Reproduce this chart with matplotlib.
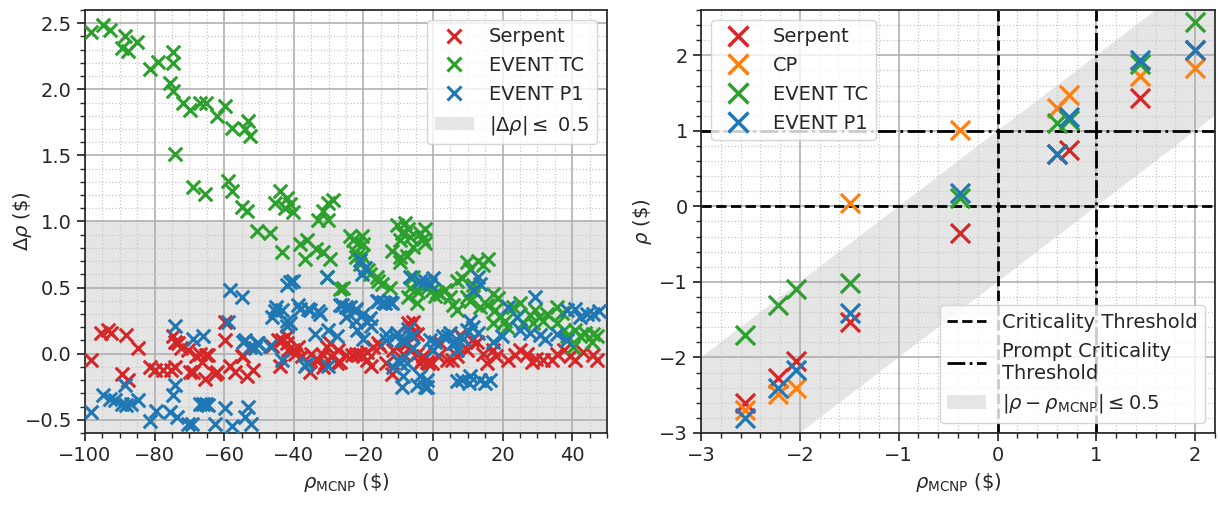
import numpy as np
import matplotlib
matplotlib.use("Agg")
import matplotlib.pyplot as plt
from matplotlib.patches import Patch
from matplotlib.lines import Line2D
from matplotlib.ticker import MultipleLocator

# ---------------- Left panel data (Delta rho vs rho_MCNP) ----------------
serpent_left_x = [-98.2, -95.3, -93.4, -92.4, -88.1, -84.8, -89.5, -87.6, -81.4, -80.0, -77.6, -75.2,
                  -74.2, -74.7, -74.2, -73.3, -72.3, -70.4, -69.9, -68.0, -66.5, -65.1, -65.6, -62.7,
                  -59.8, -59.8, -58.4, -67.0, -64.6, -69.0, -62.2, -57.0, -55.0, -53.6, -51.7, -46.4,
                  -44.5, -42.1, -41.6, -39.8, -44.0, -35.0, -33.0, -31.5, -54.6, -43.5, -42.1, -40.2,
                  -38.8, -37.8, -35.4, -33.5, -31.6, -29.6, -27.2, -26.8, -24.9, -22.0, -20.1, -19.1,
                  -17.2, -15.3, -13.4, -11.4, -8.6, -6.6, -4.7, -3.8, -1.8, -30.6, -29.2, -27.7,
                  -31.1, -23.4, -21.0, -19.1, -17.7, -15.7, -11.9, -7.1, -5.7, -6.1, -7.6, -6.6,
                  -4.7, -3.3, -0.4, 1.5, 3.9, 6.8, -8.6, -2.8, -1.4, 2.0, 5.3, 7.7,
                  9.7, 11.1, 12.5, 14.4, 15.4, 17.3, 18.2, 21.6, 23.5, 25.0, 26.9, 28.3,
                  29.7, 31.7, 34.1, 35.6, 37.5, 39.4, 40.8, 43.2, 46.1, 47.1]
serpent_left_y = [-0.05, 0.16, 0.18, 0.16, 0.14, 0.04, -0.15, -0.20, -0.10, -0.12, -0.12, -0.12,
                  -0.10, 0.13, 0.09, 0.08, 0.04, 0.03, -0.14, -0.02, -0.06, -0.01, -0.19, -0.15,
                  0.24, 0.10, -0.09, 0.00, -0.01, -0.14, -0.14, -0.14, -0.02, -0.17, -0.12, 0.06,
                  0.10, 0.13, 0.03, 0.00, -0.09, 0.00, -0.05, -0.10, -0.02, 0.10, 0.08, 0.03,
                  0.05, -0.02, -0.14, -0.04, -0.01, 0.08, 0.03, -0.06, -0.01, 0.00, -0.02, 0.01,
                  0.05, 0.06, -0.07, 0.03, 0.08, 0.21, 0.15, -0.07, -0.06, 0.05, -0.02, -0.07,
                  -0.07, -0.01, 0.00, -0.05, -0.09, 0.08, -0.15, 0.23, 0.24, 0.15, 0.08, 0.03,
                  0.00, -0.05, -0.07, -0.02, -0.05, -0.02, 0.00, -0.02, -0.07, 0.08, -0.05, 0.14,
                  0.03, 0.10, 0.09, 0.00, -0.07, 0.03, -0.02, -0.05, -0.01, 0.03, 0.00, -0.06,
                  -0.04, -0.05, -0.05, 0.00, 0.03, -0.02, -0.05, 0.01, -0.01, -0.05]

tc_left_x = [-98.2, -94.8, -92.9, -88.6, -89.5, -87.6, -85.2, -81.4, -79.0, -74.7, -74.7, -75.6,
             -74.7, -71.8, -69.9, -67.0, -65.1, -62.2, -59.8, -57.9, -53.1, -54.1, -52.6, -74.2,
             -69.0, -65.6, -58.9, -57.9, -55.0, -53.6, -50.7, -46.9, -44.0, -45.5, -42.1, -41.1,
             -40.2, -42.6, -43.5, -30.1, -28.7, -31.6, -33.0, -30.1, -38.3, -36.3, -36.8, -33.5,
             -31.6, -29.6, -30.6, -25.8, -26.8, -23.9, -20.5, -21.5, -22.5, -20.5, -23.0, -20.1,
             -22.0, -21.0, -18.6, -18.1, -16.2, -15.7, -14.8, -12.4, -10.5, -8.1, -7.1, -9.0,
             -9.5, -6.6, -3.8, -2.3, -2.8, -5.7, -11.9, -9.5, -7.6, -9.5, -2.3, -5.7,
             -6.6, -4.2, -3.3, -1.8, -0.4, -7.1, -4.7, 0.5, 2.0, 3.4, 4.9, 5.8,
             6.8, 1.0, 9.7, 13.0, 15.9, 10.6, 14.4, 6.8, 8.2, 11.6, 12.1, 9.7,
             10.6, 13.5, 15.4, 17.3, 18.7, 17.7, 19.2, 20.7, 17.3, 21.2, 23.1, 25.0,
             24.0, 25.9, 27.9, 29.3, 30.3, 28.8, 31.7, 32.7, 35.6, 37.0, 35.6, 37.5,
             38.4, 40.8, 42.3, 43.7, 46.1, 47.1, 45.6, 40.3]
tc_left_y = [2.43, 2.49, 2.45, 2.40, 2.31, 2.29, 2.36, 2.15, 2.21, 2.28, 2.20, 2.05,
             1.99, 1.90, 1.84, 1.90, 1.90, 1.80, 1.87, 1.71, 1.76, 1.70, 1.65, 1.51,
             1.26, 1.21, 1.31, 1.23, 1.11, 1.08, 0.93, 0.91, 1.23, 1.14, 1.18, 1.13,
             1.07, 1.10, 0.77, 1.14, 1.16, 1.08, 1.01, 1.01, 0.83, 0.86, 0.72, 0.79,
             0.77, 0.72, 0.58, 0.50, 0.49, 0.89, 0.89, 0.84, 0.77, 0.74, 0.86, 0.83,
             0.73, 0.68, 0.63, 0.60, 0.58, 0.55, 0.53, 0.50, 0.97, 0.99, 0.94, 0.91,
             0.86, 0.88, 0.91, 0.94, 0.87, 0.81, 0.78, 0.73, 0.74, 0.69, 0.84, 0.58,
             0.50, 0.47, 0.53, 0.50, 0.48, 0.43, 0.38, 0.44, 0.45, 0.48, 0.43, 0.37,
             0.33, 0.47, 0.69, 0.70, 0.72, 0.64, 0.67, 0.55, 0.57, 0.52, 0.47, 0.43,
             0.40, 0.35, 0.37, 0.45, 0.42, 0.33, 0.28, 0.25, 0.23, 0.20, 0.35, 0.38,
             0.28, 0.23, 0.29, 0.33, 0.28, 0.23, 0.25, 0.30, 0.35, 0.31, 0.23, 0.18,
             0.13, 0.18, 0.13, 0.16, 0.15, 0.13, 0.09, 0.05]

p1_left_x = [-98.2, -94.8, -92.9, -91.4, -89.5, -88.1, -86.7, -88.6, -84.8, -81.4, -79.5, -74.7,
             -74.2, -75.6, -73.7, -70.4, -74.2, -69.0, -66.1, -67.0, -66.1, -65.1, -62.7, -59.8,
             -58.9, -58.4, -55.0, -57.9, -54.1, -52.6, -51.2, -54.1, -52.2, -53.1, -69.4, -64.6,
             -54.6, -50.3, -43.5, -36.8, -42.1, -40.2, -45.0, -46.4, -42.0, -38.8, -35.9, -33.0,
             -41.1, -45.5, -43.5, -42.1, -41.1, -38.3, -35.4, -32.5, -26.8, -24.9, -22.5, -20.1,
             -18.1, -16.2, -14.3, -12.4, -50.7, -46.9, -34.0, -30.1, -27.7, -21.9, -20.1, -36.3,
             -30.1, -13.4, -10.5, -8.1, -5.7, -9.5, -8.6, -9.0, -3.8, -2.3, -0.9, 0.05,
             -30.6, -21.0, -19.6, -20.5, -26.3, -23.9, -22.0, -24.9, -22.0, -19.1, -17.7, -15.7,
             -13.8, -11.9, -6.6, -3.8, -0.9, -13.4, -11.0, -9.0, -7.1, -6.1, -10.0, -11.4,
             -7.6, -4.7, -1.8, 4.4, 5.8, 6.8, 6.8, -2.3, 0.05, 13.0, 11.6, 13.5,
             10.6, 11.6, 9.7, 13.0, 4.9, 2.9, 0.55, 6.3, 8.7, 17.3, 19.7, 21.6,
             24.0, 25.0, 27.9, 29.3, 30.7, 32.2, 35.6, 38.4, 40.8, 42.3, 44.2, 46.1,
             47.6, 38.4, 8.2, 10.6, 13.5, 16.4, 10.2, 14.9, -1.8]
p1_left_y = [-0.44, -0.31, -0.34, -0.35, -0.38, -0.39, -0.38, -0.24, -0.35, -0.51, -0.43, -0.31,
             -0.24, -0.44, -0.48, -0.53, 0.21, 0.11, 0.13, -0.38, -0.38, -0.38, -0.53, -0.41,
             0.24, 0.48, 0.43, -0.55, 0.10, 0.05, 0.04, -0.48, -0.53, -0.40, -0.53, -0.39,
             0.09, 0.08, -0.05, -0.09, 0.52, 0.55, 0.35, 0.28, 0.21, 0.37, 0.34, 0.32,
             0.54, 0.32, 0.33, 0.25, 0.23, 0.34, 0.33, 0.30, 0.37, 0.35, 0.32, 0.30,
             0.27, 0.40, 0.39, 0.39, 0.08, 0.06, 0.15, 0.18, 0.13, 0.18, 0.11, -0.07,
             -0.09, 0.10, 0.16, 0.10, 0.04, -0.07, -0.17, -0.25, -0.17, -0.25, 0.10, 0.03,
             0.58, 0.71, 0.65, 0.60, 0.37, 0.35, 0.34, 0.28, 0.25, 0.24, 0.21, 0.40,
             0.38, 0.38, 0.58, 0.55, 0.53, 0.15, 0.13, 0.10, 0.19, 0.13, -0.05, -0.10,
             -0.07, -0.24, -0.20, 0.13, 0.08, 0.03, -0.21, 0.55, 0.57, 0.58, 0.48, 0.53,
             0.25, 0.20, 0.18, 0.16, 0.16, 0.13, 0.09, 0.08, 0.11, 0.09, 0.13, 0.35,
             0.28, 0.18, 0.16, 0.43, 0.14, 0.11, 0.15, 0.33, 0.34, 0.28, 0.30, 0.30,
             0.32, 0.10, -0.20, -0.17, -0.20, -0.20, -0.22, -0.22, -0.25]

# ---------------- Right panel data (rho vs rho_MCNP) ----------------
rho_mcnp = [-2.555, -2.217, -2.04, -1.49, -0.378, 0.60, 0.718, 1.443, 2.00]
rho_serpent = [-2.60, -2.27, -2.05, -1.53, -0.35, 0.70, 0.75, 1.43, 2.07]
rho_cp = [-2.69, -2.49, -2.40, 0.04, 1.01, 1.30, 1.48, 1.72, 1.83]
rho_tc = [-1.70, -1.30, -1.10, -1.01, 0.11, 1.10, 1.15, 1.89, 2.44]
rho_p1 = [-2.80, -2.40, -2.16, -1.41, 0.18, 0.70, 1.19, 1.94, 2.07]

RED, GREEN, BLUE, ORANGE = "#d62728", "#2ca02c", "#1f77b4", "#ff7f0e"
BAND = "#e5e5e5"
DARK = "#262626"

plt.rcParams.update({
    "font.family": ["DejaVu Sans"],
    "font.size": 14,
    "axes.edgecolor": DARK,
    "axes.linewidth": 1.25,
    "xtick.color": DARK,
    "ytick.color": DARK,
    "axes.labelcolor": DARK,
    "text.color": DARK,
    "xtick.major.size": 6,
    "ytick.major.size": 6,
    "xtick.minor.size": 3.5,
    "ytick.minor.size": 3.5,
    "xtick.major.width": 1.25,
    "ytick.major.width": 1.25,
    "xtick.minor.width": 1.0,
    "ytick.minor.width": 1.0,
    "legend.fontsize": 14,
})

fig = plt.figure(figsize=(12.2, 5.05), dpi=100)
axL = fig.add_axes([0.0697, 0.1426, 0.4279, 0.8376])
axR = fig.add_axes([0.5746, 0.1426, 0.4213, 0.8376])


def style_grid(ax):
    ax.set_axisbelow(True)
    ax.grid(which="major", color="#b0b0b0", linewidth=1.2, linestyle="-")
    ax.grid(which="minor", color="#c8c8c8", linewidth=0.9, linestyle=":")


# ---------- Left ----------
axL.axhspan(-1.0, 1.0, color=BAND, zorder=0.5, linewidth=0)
s_left = 95
lw_left = 2.2
axL.scatter(serpent_left_x, serpent_left_y, marker="x", s=s_left, linewidths=lw_left, color=RED, zorder=3)
axL.scatter(tc_left_x, tc_left_y, marker="x", s=s_left, linewidths=lw_left, color=GREEN, zorder=3)
axL.scatter(p1_left_x, p1_left_y, marker="x", s=s_left, linewidths=lw_left, color=BLUE, zorder=3)
axL.set_xlim(-100, 50)
axL.set_ylim(-0.6, 2.6)
axL.xaxis.set_major_locator(MultipleLocator(20))
axL.xaxis.set_minor_locator(MultipleLocator(5))
axL.yaxis.set_major_locator(MultipleLocator(0.5))
axL.yaxis.set_minor_locator(MultipleLocator(0.1))
style_grid(axL)
axL.set_xlabel(r"$\rho_{\mathrm{MCNP}}$ (\$)")
axL.set_ylabel(r"$\Delta\rho$ (\$)")
axL.yaxis.set_label_coords(-0.098, 0.5)
hL = [
    Line2D([], [], marker="x", linestyle="none", color=RED, markersize=10, markeredgewidth=2.2),
    Line2D([], [], marker="x", linestyle="none", color=GREEN, markersize=10, markeredgewidth=2.2),
    Line2D([], [], marker="x", linestyle="none", color=BLUE, markersize=10, markeredgewidth=2.2),
    Patch(facecolor=BAND, edgecolor="none"),
]
axL.legend(hL, ["Serpent", "EVENT TC", "EVENT P1", r"$|\Delta\rho| \leq$ 0.5"],
           loc="upper right", framealpha=0.8, edgecolor="#cccccc")

# ---------- Right ----------
xb = np.array([-3.0, 2.2])
axR.fill_between(xb, xb - 1.0, xb + 1.0, color=BAND, linewidth=0, zorder=0.5)
axR.axhline(0, color="k", linestyle="--", linewidth=2, zorder=2)
axR.axvline(0, color="k", linestyle="--", linewidth=2, zorder=2)
axR.axhline(1, color="k", linestyle="-.", linewidth=2, zorder=2)
axR.axvline(1, color="k", linestyle="-.", linewidth=2, zorder=2)
s_right = 190
lw_right = 2.3
axR.scatter(rho_mcnp, rho_serpent, marker="x", s=s_right, linewidths=lw_right, color=RED, zorder=3)
axR.scatter(rho_mcnp, rho_cp, marker="x", s=s_right, linewidths=lw_right, color=ORANGE, zorder=3)
axR.scatter(rho_mcnp, rho_tc, marker="x", s=s_right, linewidths=lw_right, color=GREEN, zorder=3)
axR.scatter(rho_mcnp, rho_p1, marker="x", s=s_right, linewidths=lw_right, color=BLUE, zorder=3)
axR.set_xlim(-3, 2.2)
axR.set_ylim(-3, 2.6)
axR.xaxis.set_major_locator(MultipleLocator(1))
axR.xaxis.set_minor_locator(MultipleLocator(0.2))
axR.yaxis.set_major_locator(MultipleLocator(1))
axR.yaxis.set_minor_locator(MultipleLocator(0.2))
style_grid(axR)
axR.set_xlabel(r"$\rho_{\mathrm{MCNP}}$ (\$)")
axR.set_ylabel(r"$\rho$ (\$)")

hR1 = [Line2D([], [], marker="x", linestyle="none", color=c, markersize=14, markeredgewidth=2.5)
       for c in (RED, ORANGE, GREEN, BLUE)]
leg1 = axR.legend(hR1, ["Serpent", "CP", "EVENT TC", "EVENT P1"], loc="upper left",
                  framealpha=0.8, edgecolor="#cccccc")
axR.add_artist(leg1)
hR2 = [Line2D([], [], color="k", linestyle="--", linewidth=2),
       Line2D([], [], color="k", linestyle="-.", linewidth=2),
       Patch(facecolor=BAND, edgecolor="none")]
axR.legend(hR2, ["Criticality Threshold", "Prompt Criticality\nThreshold",
                 r"$|\rho - \rho_{\mathrm{MCNP}}| \leq 0.5$"],
           loc="lower right", framealpha=0.8, edgecolor="#cccccc")

fig.savefig("out.png", dpi=100)
